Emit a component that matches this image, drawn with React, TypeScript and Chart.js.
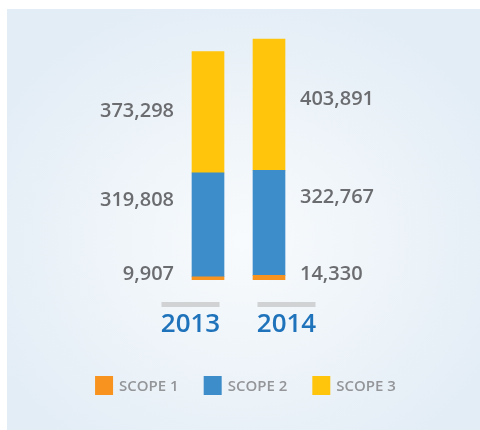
import React, { useEffect, useRef } from "react";
import { Chart, registerables } from "chart.js";

Chart.register(...registerables);

const years = ["2013", "2014"];
const seriesNames = ["SCOPE 1", "SCOPE 2", "SCOPE 3"];
const scope1 = [9907, 14330];
const scope2 = [319808, 322767];
const scope3 = [373298, 403891];
const colors = ["#f7931e", "#3d8dcb", "#ffc50d"];

const fmt = (v: number) => v.toLocaleString("en-US");

const labelPlugin = {
  id: "customLabels",
  afterDatasetsDraw(chart: any) {
    const ctx = chart.ctx as CanvasRenderingContext2D;
    const n = chart.data.datasets.length;
    ctx.save();
    // value labels
    ctx.font = "600 20px 'Open Sans'";
    ctx.fillStyle = "#6b6c6f";
    ctx.textBaseline = "middle";
    for (let i = 0; i < n; i++) {
      const meta = chart.getDatasetMeta(i);
      const ds = chart.data.datasets[i];
      meta.data.forEach((bar: any, j: number) => {
        const half = bar.width / 2;
        let x: number;
        if (j === 0) {
          ctx.textAlign = "right";
          x = bar.x - half - 18;
        } else {
          ctx.textAlign = "left";
          x = bar.x + half + 15;
        }
        let y: number;
        if (i === 0) y = bar.base - 6;
        else if (i === 1) y = bar.y + 27;
        else y = bar.y + 60;
        ctx.fillText(fmt(ds.data[j]), x, y);
      });
    }
    // year labels
    const meta0 = chart.getDatasetMeta(0);
    const xs = meta0.data.map((b: any) => b.x);
    const mid = (xs[0] + xs[xs.length - 1]) / 2;
    const bottom = chart.chartArea.bottom;
    ctx.font = "600 26px 'Open Sans'";
    ctx.textAlign = "center";
    ctx.textBaseline = "middle";
    chart.data.labels.forEach((lab: string, j: number) => {
      const cx = mid + (xs[j] - mid) * 96 / 61;
      ctx.fillStyle = "#d0d2d4";
      ctx.fillRect(cx - 29, bottom + 22, 58, 5);
      ctx.fillStyle = "#1f73bb";
      ctx.fillText(lab, cx, bottom + 45);
    });
    // legend
    ctx.font = "600 15px 'Open Sans'";
    const boxW = 18, boxH = 19, gap = 6, spacing = 25;
    const widths = chart.data.datasets.map((d: any) => boxW + gap + ctx.measureText(d.label).width);
    const total = widths.reduce((a: number, b: number) => a + b, 0) + spacing * (n - 1);
    let lx = chart.width / 2 + 2 - total / 2;
    const ly = bottom + 96;
    ctx.textAlign = "left";
    chart.data.datasets.forEach((d: any, i: number) => {
      ctx.fillStyle = d.backgroundColor;
      ctx.fillRect(lx, ly, boxW, boxH);
      ctx.fillStyle = "#939598";
      ctx.fillText(d.label, lx + boxW + gap, ly + boxH / 2 + 1);
      lx += widths[i] + spacing;
    });
    ctx.restore();
  },
};

export default function App() {
  const ref = useRef<HTMLCanvasElement>(null);
  useEffect(() => {
    if (!ref.current) return;
    const series = [scope1, scope2, scope3];
    const chart = new Chart(ref.current, {
      type: "bar",
      data: {
        labels: years,
        datasets: series.map((s, i) => ({
          label: seriesNames[i],
          data: s,
          backgroundColor: colors[i],
          borderWidth: 0,
          barThickness: 32,
        })),
      },
      options: {
        animation: false,
        responsive: false,
        layout: { padding: { left: 170.5, right: 180.5, top: 11, bottom: 150 } },
        plugins: { legend: { display: false }, tooltip: { enabled: false } },
        scales: {
          x: { stacked: true, display: false },
          y: { stacked: true, display: false, min: 0, max: 800000 },
        },
      },
      plugins: [labelPlugin],
    });
    return () => chart.destroy();
  }, []);
  return (
    <div
      style={{
        position: "fixed",
        left: 7,
        top: 9,
        width: 473,
        height: 421,
        background:
          "radial-gradient(ellipse 60% 60% at 50% 55%, #f8fbfd 0%, #eef4f9 50%, #e3edf6 100%)",
      }}
    >
      <canvas ref={ref} width={473} height={421} style={{ display: "block" }} />
    </div>
  );
}
